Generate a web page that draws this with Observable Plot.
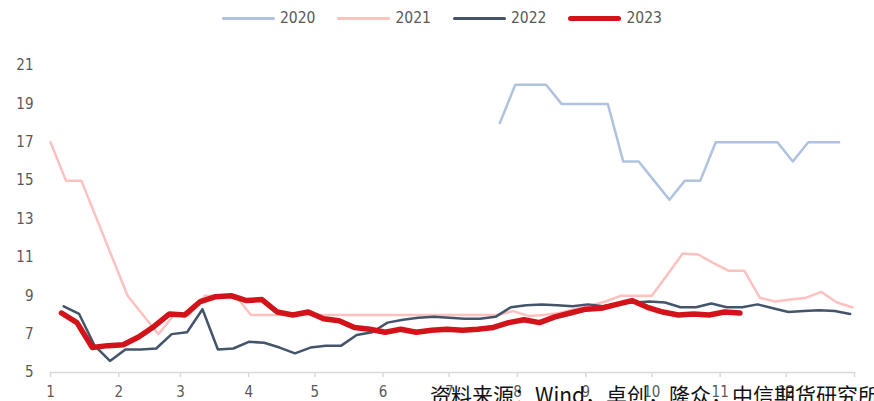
<!DOCTYPE html>
<html>
<head>
<meta charset="utf-8">
<script src="https://cdn.jsdelivr.net/npm/d3@7"></script>
<script src="https://cdn.jsdelivr.net/npm/@observablehq/plot@0.6"></script>
<style>
  html, body { margin: 0; padding: 0; background: #fff; }
  #wrap { position: relative; width: 874px; height: 401px; overflow: hidden; font-family: "Liberation Sans Narrow", "DejaVu Sans Condensed", "Liberation Sans", sans-serif; font-stretch: condensed; }
  #chart { position: absolute; left: 0; top: 0; }
  #legend { position: absolute; top: 9px; left: 222px; display: flex; align-items: center; font-size: 15.5px; color: #595959; }
  .item { display: flex; align-items: center; margin-right: 22px; }
  .swatch { width: 53px; margin-right: 5px; border-radius: 3px; }
  #source { position: absolute; left: 430px; top: 379px; font-family: "Noto Sans CJK SC", sans-serif; font-size: 21px; color: #111; white-space: nowrap; font-stretch: normal; }
</style>
</head>
<body>
<div id="wrap">
  <div id="chart"></div>
  <div id="legend"></div>
  <div id="source">资料来源：Wind，卓创，隆众，中信期货研究所</div>
</div>
<script>
// ---- data (weekly, Friday observations) ----
const years = ["2020", "2021", "2022", "2023"];
const colors = ["#b0c3de", "#ffc0c0", "#44546a", "#d2131a"];
const widths = [2.5, 2.5, 2.5, 5.5];

const start2020 = "2020-07-24";
const values2020 = [18, 20, 20, 20, 19, 19, 19, 19, 16, 16, 15, 14, 15, 15, 17, 17, 17, 17, 17, 16, 17, 17, 17];

const start2021 = "2021-01-01";
const values2021 = [17, 15, 15, 13, 11, 9, 8, 7, 8, 8, 9, 9, 9, 8,
  8, 8, 8, 8, 8, 8, 8, 8, 8, 8, 8, 8, 8, 8, 8, 8,
  8.2, 7.95, 8.0, 8.1, 8.3, 8.5, 8.7, 9.0, 9.0, 9.0, 10.1, 11.2, 11.15, 10.7, 10.3, 10.3,
  8.9, 8.7, 8.8, 8.9, 9.2, 8.65, 8.4];

const start2022 = "2022-01-07";
const values2022 = [8.45, 8.05, 6.4, 5.6, 6.2, 6.2, 6.25, 7.0, 7.1, 8.3, 6.2, 6.25, 6.6, 6.55, 6.3, 6.0,
  6.3, 6.4, 6.4, 6.95, 7.1, 7.6, 7.75, 7.85, 7.9, 7.85, 7.8, 7.8, 7.9, 8.4, 8.5, 8.55,
  8.5, 8.45, 8.55, 8.45, 8.6, 8.65, 8.7, 8.65, 8.4, 8.4, 8.6, 8.4, 8.4, 8.55, 8.35, 8.15,
  8.2, 8.25, 8.2, 8.05];

const start2023 = "2023-01-06";
const values2023 = [8.1, 7.6, 6.3, 6.4, 6.45, 6.85, 7.4, 8.05, 8.0, 8.7, 8.95, 9.0, 8.75, 8.8, 8.15, 8.0,
  8.15, 7.8, 7.7, 7.35, 7.25, 7.1, 7.25, 7.1, 7.2, 7.25, 7.2, 7.25, 7.35, 7.6, 7.75, 7.6,
  7.9, 8.1, 8.3, 8.35, 8.55, 8.75, 8.4, 8.15, 8.0, 8.05, 8.0, 8.15, 8.1];

const monthLabels = ["1", "2", "3", "4", "5", "6", "7", "8", "9", "10", "11", "12"];
const yTicks = [5, 7, 9, 11, 13, 15, 17, 19, 21];
const sourceText = "资料来源：Wind，卓创，隆众，中信期货研究所";

// ---- build table, mapping each date onto a common reference year ----
const refYear = 2023;
const seriesDefs = [
  [years[0], start2020, values2020],
  [years[1], start2021, values2021],
  [years[2], start2022, values2022],
  [years[3], start2023, values2023]
];
const rows = [];
for (const [yr, start, vals] of seriesDefs) {
  const s = new Date(start + "T00:00:00Z");
  vals.forEach((v, i) => {
    const d = d3.utcDay.offset(s, 7 * i);
    rows.push({year: yr, date: new Date(Date.UTC(refYear, d.getUTCMonth(), d.getUTCDate())), value: v});
  });
}

const xTicks = d3.utcMonth.range(new Date(Date.UTC(refYear, 0, 1)), new Date(Date.UTC(refYear + 1, 0, 2)));
const fmt = d => d.getUTCFullYear() === refYear ? monthLabels[d.getUTCMonth()] : "";

const marks = [
  Plot.ruleY([5], {stroke: "#d9d9d9", strokeWidth: 1.5}),
  Plot.axisX({ticks: xTicks, tickFormat: fmt, tickSize: 5, tickPadding: 9, stroke: "#d9d9d9", strokeWidth: 1.5, fill: "#595959", fontSize: 15, textStroke: "none"}),
  Plot.axisY({ticks: yTicks, tickSize: 0, tickPadding: 17, fill: "#595959", fontSize: 15})
];
years.forEach((yr, k) => {
  marks.push(Plot.lineY(rows.filter(r => r.year === yr), {x: "date", y: "value", stroke: colors[k], strokeWidth: widths[k], strokeLinejoin: "round", strokeLinecap: "round"}));
});

const chart = Plot.plot({
  width: 874,
  height: 401,
  marginTop: 65,
  marginBottom: 29,
  marginLeft: 50,
  marginRight: 20,
  style: {fontFamily: "\"Liberation Sans Narrow\", \"DejaVu Sans Condensed\", sans-serif", fontSize: "15px", background: "transparent"},
  x: {type: "utc", domain: [new Date(Date.UTC(refYear, 0, 1)), new Date(Date.UTC(refYear + 1, 0, 1))], label: null},
  y: {domain: [5, 21], label: null},
  marks
});
document.getElementById("chart").appendChild(chart);

// ---- legend ----
const legend = document.getElementById("legend");
years.forEach((yr, k) => {
  const item = document.createElement("div");
  item.className = "item";
  const sw = document.createElement("div");
  sw.className = "swatch";
  sw.style.background = colors[k];
  sw.style.height = (k === 3 ? 5 : 3) + "px";
  const t = document.createElement("span");
  t.textContent = yr;
  item.appendChild(sw);
  item.appendChild(t);
  legend.appendChild(item);
});
document.getElementById("source").textContent = sourceText;
</script>
</body>
</html>
